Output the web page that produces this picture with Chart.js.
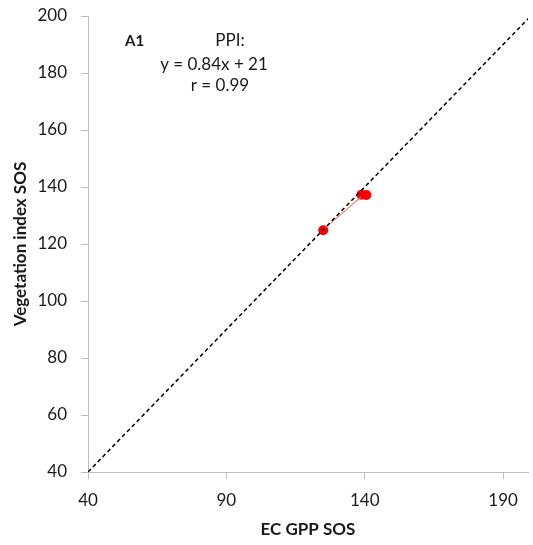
<!DOCTYPE html>
<html>
<head>
<meta charset="utf-8">
<script src="https://cdn.jsdelivr.net/npm/chart.js@4/dist/chart.umd.min.js"></script>
<style>
  html, body { margin: 0; padding: 0; background: #ffffff; overflow: hidden; }
  canvas { display: block; }
</style>
</head>
<body>
<canvas id="c" width="533" height="545"></canvas>
<script>
// Data
const ppiX = [125, 138.8, 140.6];
const ppiY = [124.8, 137.3, 137.2];
const trendX = [125.5, 138.6];
const trendY = [125.5, 136.5];
const oneToOneX = [40, 200];
const oneToOneY = [40, 200];
const xTicks = [40, 90, 140, 190];
const yTicks = [40, 60, 80, 100, 120, 140, 160, 180, 200];
const annotationLines = ["PPI:", "y = 0.84x + 21", "r = 0.99"];
const panelLabel = "A1";

const toPts = (xs, ys) => xs.map((x, i) => ({ x: x, y: ys[i] }));

const FONT = "Lato, 'Liberation Sans', sans-serif";
const AXIS_COLOR = "#bfbfbf";
const TEXT_COLOR = "#1a1a1a";

const annotationPlugin = {
  id: 'annot',
  afterDraw(chart) {
    const ctx = chart.ctx;
    ctx.save();
    ctx.fillStyle = TEXT_COLOR;
    ctx.textBaseline = 'middle';
    ctx.font = "bold 15px " + FONT;
    ctx.textAlign = 'left';
    ctx.fillText(panelLabel, 125, 41);
    ctx.font = "17px " + FONT;
    ctx.textAlign = 'center';
    ctx.fillText(annotationLines[0], 230, 41);
    ctx.fillText(annotationLines[1], 214, 65);
    ctx.fillText(annotationLines[2], 220, 86);
    ctx.restore();
  }
};

new Chart(document.getElementById('c'), {
  type: 'scatter',
  data: {
    datasets: [
      {
        label: '1:1',
        data: toPts(oneToOneX, oneToOneY),
        showLine: true,
        borderColor: '#000000',
        borderWidth: 1.5,
        borderDash: [4, 3],
        pointRadius: 0,
        fill: false
      },
      {
        label: 'trend',
        data: toPts(trendX, trendY),
        showLine: true,
        borderColor: 'rgba(255,100,100,0.85)',
        borderWidth: 1.1,
        pointRadius: 0,
        fill: false
      },
      {
        label: 'PPI',
        data: toPts(ppiX, ppiY),
        showLine: false,
        pointRadius: 5,
        pointBackgroundColor: '#ff0000',
        pointBorderColor: '#ff0000',
        pointBorderWidth: 0
      }
    ]
  },
  options: {
    responsive: false,
    animation: false,
    layout: { padding: { top: 16, right: 1, left: 0, bottom: 0 } },
    plugins: { legend: { display: false }, tooltip: { enabled: false } },
    scales: {
      x: {
        type: 'linear',
        min: 40,
        max: 199,
        afterBuildTicks: (axis) => { axis.ticks = xTicks.map(v => ({ value: v })); },
        afterFit: (scale) => { scale.height = 73; scale.paddingRight = 0; scale.paddingLeft = 0; },
        grid: { display: true, drawOnChartArea: false, drawTicks: true, tickLength: 7, tickColor: AXIS_COLOR },
        border: { display: true, color: AXIS_COLOR, width: 1 },
        ticks: { color: TEXT_COLOR, font: { family: FONT, size: 17 }, padding: 11, maxRotation: 0 },
        title: { display: true, text: 'EC GPP SOS', color: TEXT_COLOR, font: { family: FONT, size: 17, weight: 'bold' }, padding: { top: 0, bottom: 5 } }
      },
      y: {
        type: 'linear',
        min: 40,
        max: 200,
        afterBuildTicks: (axis) => { axis.ticks = yTicks.map(v => ({ value: v })); },
        afterFit: (scale) => { scale.width = 88; scale.paddingTop = 0; scale.paddingBottom = 0; },
        grid: { display: true, drawOnChartArea: false, drawTicks: true, tickLength: 7, tickColor: AXIS_COLOR },
        border: { display: true, color: AXIS_COLOR, width: 1 },
        ticks: { color: TEXT_COLOR, font: { family: FONT, size: 17 }, padding: 14 },
        title: { display: true, text: 'Vegetation index SOS', color: TEXT_COLOR, font: { family: FONT, size: 17, weight: 'bold' }, padding: { top: 10, bottom: 0 } }
      }
    }
  },
  plugins: [annotationPlugin]
});
</script>
</body>
</html>
